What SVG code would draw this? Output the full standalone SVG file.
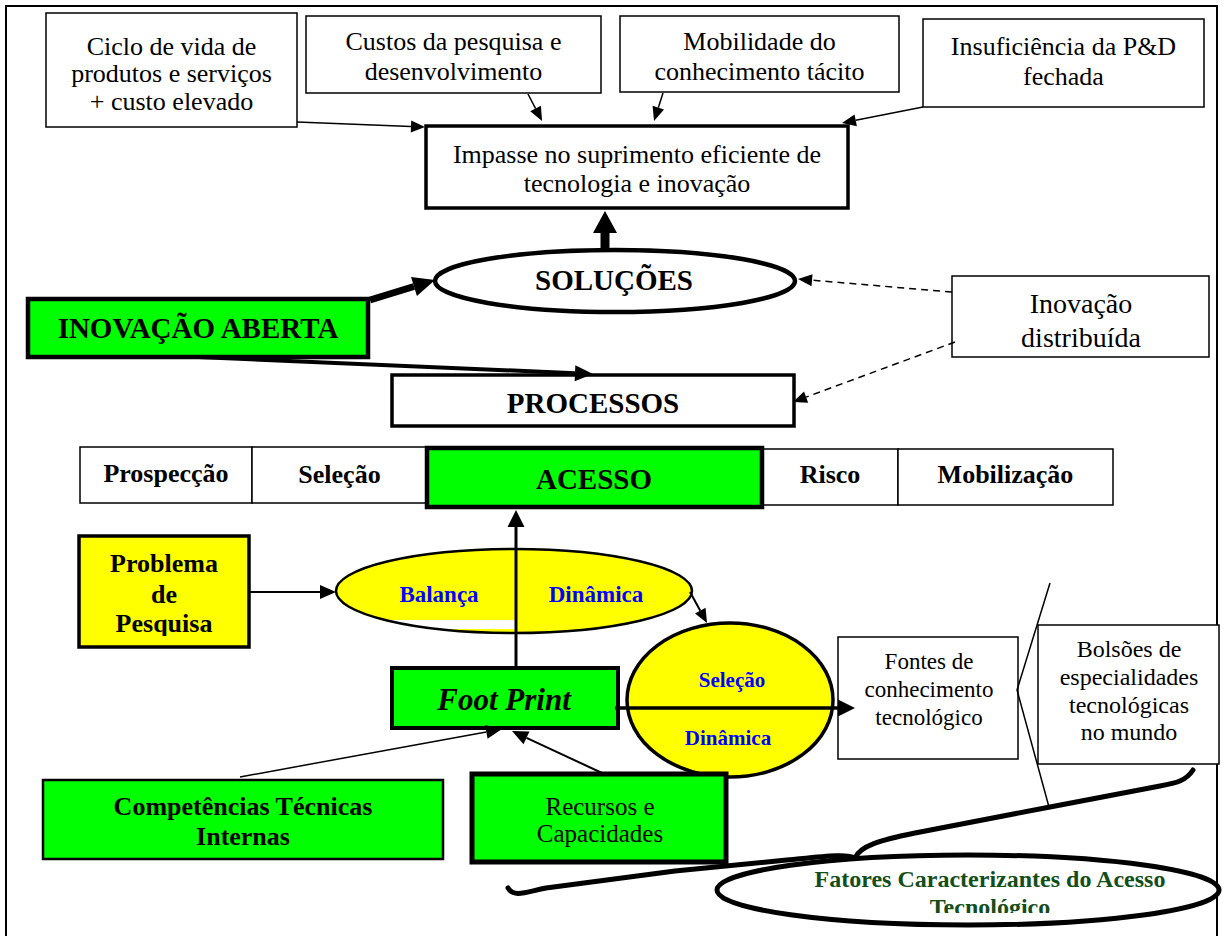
<svg xmlns="http://www.w3.org/2000/svg" width="1224" height="936" viewBox="0 0 1224 936">
<style>
text{font-family:"Liberation Serif","Times New Roman",serif;text-anchor:middle;fill:#000}
.r26{font-size:26px}
.b26{font-size:26px;font-weight:bold}
.b29{font-size:29px;font-weight:bold}
.thin{fill:#fff;stroke:#000;stroke-width:1.5}
.thick{fill:#fff;stroke:#000;stroke-width:3.5}
.green{fill:#00ff00;stroke:#000}
.yellow{fill:#ffff00;stroke:#000}
.blue{fill:#0000ff;font-weight:bold}
.ln{fill:none;stroke:#000}
.dash{stroke-dasharray:7 5}
</style>
<defs>
<marker id="h14" markerUnits="userSpaceOnUse" markerWidth="14" markerHeight="12" refX="0" refY="6" orient="auto" overflow="visible"><path d="M0,0 L14,6 L0,12 z"/></marker>
<marker id="h16" markerUnits="userSpaceOnUse" markerWidth="16" markerHeight="14" refX="0" refY="7" orient="auto" overflow="visible"><path d="M0,0 L16,7 L0,14 z"/></marker>
<marker id="h17" markerUnits="userSpaceOnUse" markerWidth="17" markerHeight="17" refX="0" refY="8.5" orient="auto" overflow="visible"><path d="M0,0 L17,8.5 L0,17 z"/></marker>
<marker id="h18" markerUnits="userSpaceOnUse" markerWidth="18" markerHeight="16" refX="0" refY="8" orient="auto" overflow="visible"><path d="M0,0 L18,8 L0,16 z"/></marker>
<marker id="h22" markerUnits="userSpaceOnUse" markerWidth="22" markerHeight="20" refX="0" refY="10" orient="auto" overflow="visible"><path d="M0,0 L22,10 L0,20 z"/></marker>
<marker id="h22w" markerUnits="userSpaceOnUse" markerWidth="22" markerHeight="24" refX="0" refY="12" orient="auto" overflow="visible"><path d="M0,0 L22,12 L0,24 z"/></marker>
<clipPath id="clipProblema"><rect x="79" y="536" width="170" height="100"/></clipPath>
<clipPath id="clipFatores"><rect x="700" y="850" width="530" height="63"/></clipPath>
<clipPath id="clipBalanca"><ellipse cx="514" cy="591" rx="178" ry="42"/></clipPath>
</defs>

<!-- outer frame -->
<rect x="6" y="6" width="1211" height="940" fill="none" stroke="#000" stroke-width="2"/>

<!-- top drivers -->
<g id="ciclo-vida">
<rect class="thin" x="46" y="13" width="251" height="114"/>
<text class="r26" x="171.5" y="55">Ciclo de vida de</text>
<text class="r26" x="171.5" y="82">produtos e serviços</text>
<text class="r26" x="171.5" y="110">+ custo elevado</text>
</g>
<g id="custos-pd">
<rect class="thin" x="306" y="16" width="295" height="77"/>
<text class="r26" x="453.5" y="50">Custos da pesquisa e</text>
<text class="r26" x="453.5" y="80">desenvolvimento</text>
</g>
<g id="mobilidade">
<rect class="thin" x="620" y="16" width="279" height="76"/>
<text class="r26" x="759.5" y="50">Mobilidade do</text>
<text class="r26" x="759.5" y="80">conhecimento tácito</text>
</g>
<g id="insuficiencia">
<rect class="thin" x="923" y="19" width="281" height="88"/>
<text class="r26" x="1063.5" y="55">Insuficiência da P&amp;D</text>
<text class="r26" x="1063.5" y="85">fechada</text>
</g>
<g id="impasse">
<rect class="thick" x="426" y="126" width="422" height="82"/>
<text class="r26" x="637" y="163">Impasse no suprimento eficiente de</text>
<text class="r26" x="637" y="192">tecnologia e inovação</text>
</g>

<!-- open innovation block -->
<g id="solucoes">
<ellipse cx="615" cy="281" rx="180" ry="31" fill="#fff" stroke="#000" stroke-width="4.5"/>
<text class="b29" x="614" y="290">SOLUÇÕES</text>
</g>
<g id="inovacao-aberta">
<rect class="green" stroke-width="4.5" x="28" y="299" width="340" height="58"/>
<text class="b29" x="198" y="338">INOVAÇÃO ABERTA</text>
</g>
<g id="inovacao-distribuida">
<rect class="thin" x="952" y="276" width="257" height="81"/>
<text x="1081" y="313" font-size="28">Inovação</text>
<text x="1081" y="347" font-size="28">distribuída</text>
</g>
<g id="processos">
<rect class="thick" x="392" y="375" width="402" height="51"/>
<text class="b29" x="593" y="413">PROCESSOS</text>
</g>

<!-- process stages -->
<g id="prospeccao">
<rect class="thin" x="80" y="447" width="172" height="56"/>
<text class="b26" x="166" y="482">Prospecção</text>
</g>
<g id="selecao">
<rect class="thin" x="252" y="447" width="175" height="56"/>
<text class="b26" x="339.5" y="483">Seleção</text>
</g>
<g id="risco">
<rect class="thin" x="762" y="449" width="136" height="56"/>
<text class="b26" x="830" y="483">Risco</text>
</g>
<g id="mobilizacao">
<rect class="thin" x="898" y="449" width="215" height="56"/>
<text class="b26" x="1005.5" y="483">Mobilização</text>
</g>
<g id="acesso">
<rect class="green" stroke-width="4.5" x="427" y="448" width="335" height="59"/>
<text class="b29" x="594" y="489">ACESSO</text>
</g>

<!-- access dynamics -->
<g id="problema">
<rect class="yellow" stroke-width="3.5" x="79" y="536" width="170" height="111"/>
<g clip-path="url(#clipProblema)">
<text class="b26" x="164" y="572">Problema</text>
<text class="b26" x="164" y="603">de</text>
<text class="b26" x="164" y="632">Pesquisa</text>
</g>
</g>
<g id="balanca-dinamica">
<ellipse cx="514" cy="591" rx="178" ry="42" fill="#ffff00"/>
<rect x="380" y="620" width="135" height="9" fill="#fff" clip-path="url(#clipBalanca)"/>
<ellipse cx="514" cy="591" rx="178" ry="42" fill="none" stroke="#000" stroke-width="2.5"/>
<text class="blue" x="439" y="602" font-size="23">Balança</text>
<text class="blue" x="596" y="602" font-size="23">Dinâmica</text>
</g>
<g id="footprint">
<rect class="green" stroke-width="4" x="392" y="668" width="226" height="60"/>
<text x="504" y="710" font-size="31" font-weight="bold" font-style="italic">Foot Print</text>
</g>
<g id="selecao-dinamica">
<ellipse cx="730" cy="700" rx="103" ry="77" fill="#ffff00" stroke="#000" stroke-width="3.5"/>
<text class="blue" x="732" y="687" font-size="21">Seleção</text>
<text class="blue" x="728" y="745" font-size="21">Dinâmica</text>
</g>
<g id="fontes">
<rect class="thin" x="838" y="637" width="180" height="122"/>
<text x="929" y="669" font-size="23">Fontes de</text>
<text x="929" y="697" font-size="23">conhecimento</text>
<text x="929" y="725" font-size="23">tecnológico</text>
</g>
<g id="bolsoes">
<rect class="thin" x="1038" y="625" width="181" height="139"/>
<text x="1129" y="657" font-size="24">Bolsões de</text>
<text x="1129" y="685" font-size="24">especialidades</text>
<text x="1129" y="713" font-size="24">tecnológicas</text>
<text x="1129" y="740" font-size="24">no mundo</text>
</g>
<g id="competencias">
<rect class="green" stroke-width="2.5" x="43" y="780" width="400" height="79"/>
<text class="b26" x="243" y="815">Competências Técnicas</text>
<text class="b26" x="243" y="845">Internas</text>
</g>
<g id="recursos">
<rect class="green" stroke-width="5" x="472" y="774" width="254" height="88"/>
<text x="600" y="815" font-size="25">Recursos e</text>
<text x="600" y="842" font-size="25">Capacidades</text>
</g>

<!-- connectors -->
<g id="connectors" class="ln">
<path d="M297,122 L411,126.5" stroke-width="1.5" marker-end="url(#h14)"/>
<path d="M528,94 L535.6,108.6" stroke-width="1.5" marker-end="url(#h14)"/>
<path d="M663,93 L658.3,107.7" stroke-width="1.5" marker-end="url(#h14)"/>
<path d="M923,107 L855.7,120.3" stroke-width="1.5" marker-end="url(#h14)"/>
<path d="M605,250 L605,233" stroke-width="9" marker-end="url(#h22w)"/>
<path d="M370,300 L414,286.5" stroke-width="7" marker-end="url(#h22)"/>
<path d="M198,357 L575,373.2" stroke-width="4" marker-end="url(#h18)"/>
<path class="dash" d="M952,292 L812,280.2" stroke-width="1.5" marker-end="url(#h14)"/>
<path class="dash" d="M955,342 L806.1,397.1" stroke-width="1.5" marker-end="url(#h14)"/>
<path d="M516,668 L516,527" stroke-width="3" marker-end="url(#h17)"/>
<path d="M250,592 L320,592" stroke-width="2" marker-end="url(#h16)"/>
<path d="M690,592 L700.3,610.7" stroke-width="2" marker-end="url(#h14)"/>
<path d="M615,708 L838,708" stroke-width="3.5" marker-end="url(#h17)"/>
<path d="M240,777 L486.3,731.9" stroke-width="1.5" marker-end="url(#h16)"/>
<path d="M602,773 L526.5,737.8" stroke-width="2" marker-end="url(#h16)"/>
<!-- angle bracket grouping the knowledge sources -->
<polyline points="1050,583 1017,690 1049,807" stroke-width="1.5"/>
<!-- curly brace gathering the access factors -->
<path d="M1193,770 C1186,781 1176,783 1160,786 L1050,807 L915,833 C880,840 860,846 855,858 C846,853 820,857 777,861 L675,871 L546,888 C526,892 514,898 508,888" stroke-width="5" stroke-linecap="round" stroke-linejoin="round"/>
</g>

<g id="fatores">
<ellipse cx="968" cy="890" rx="251" ry="35" fill="#fff" stroke="#000" stroke-width="5"/>
<g clip-path="url(#clipFatores)">
<text x="990" y="887" font-size="24" font-weight="bold" fill="#124d1a" style="fill:#124d1a">Fatores Caracterizantes do Acesso</text>
<text x="990" y="915" font-size="24" font-weight="bold" style="fill:#124d1a">Tecnológico</text>
</g>
</g>
</svg>
